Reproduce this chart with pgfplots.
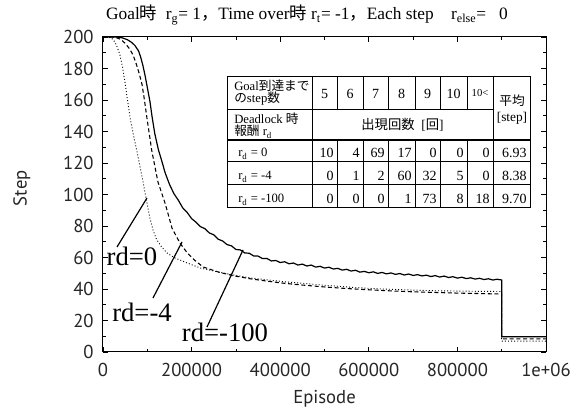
\documentclass[border=0pt]{standalone}
\usepackage{pgfplots}
\pgfplotsset{compat=1.18}
\usepackage{fontspec}
\setmainfont{PT Sans}
\newfontfamily\serif{Liberation Serif}
\newfontfamily\jp{Noto Sans CJK JP}
\begin{document}
\begin{tikzpicture}
\path[use as bounding box] (-77.25pt,-45.75pt) rectangle (360.75pt,264pt);
\begin{axis}[
  at={(0,0)}, anchor=south west,
  scale only axis, width=332.25pt, height=236.25pt,
  xmin=0, xmax=1000000, ymin=0, ymax=200,
  xtick={0,200000,400000,600000,800000,1000000},
  xticklabels={0,200000,400000,600000,800000,1e+06},
  scaled x ticks=false,
  ytick={0,20,...,200},
  minor x tick num=1, minor y tick num=1,
  tick pos=both, tick align=inside,
  major tick length=3.75pt, minor tick length=2.25pt,
  every tick/.style={black, line width=0.6pt},
  axis line style={black, line width=0.75pt},
  /pgf/number format/assume math mode=true,
  tick label style={font=\fontsize{14}{16}\selectfont, text=black!85},
  xticklabel style={yshift=-5pt},
  yticklabel style={xshift=-3.5pt},
  xlabel={Episode}, ylabel={Step},
  label style={font=\fontsize{14}{16}\selectfont, text=black!85},
  xlabel style={at={(axis description cs:0.5,-0.15)}, anchor=center},
  ylabel style={at={(axis description cs:-0.183,0.52)}, anchor=center},
]
% rd = 0 (dotted)
\addplot[black, line width=0.7pt, dash pattern=on 0.7pt off 1.6pt] coordinates {
(0,200) (8000,200) (15000,199.7) (23000,198.5) (30000,195) (38000,189) (44000,181)
(50000,170.5) (55000,160.5) (61000,149) (70000,136) (77000,127) (85000,115.5) (90000,108.5)
(99000,95) (106000,85) (113000,77.5) (120000,72) (130000,67.5) (144000,63) (160000,60)
(190000,56.5) (220000,53.3) (257000,51) (300000,48.6) (335000,47) (370000,45.8)
(410000,44.6) (450000,43.6) (500000,42.4) (550000,41.3) (600000,40.4) (650000,39.8)
(700000,39.3) (750000,38.9) (800000,38.7) (850000,38.5) (899999,38.4)
(900000,6.93) (1000000,6.93)
};
% rd = -4 (dashed)
\addplot[black, line width=0.8pt, dash pattern=on 3pt off 2pt] coordinates {
(0,200) (20000,200) (31000,199.5) (40000,198.5) (50000,196) (60000,192.5) (68000,188.5)
(75000,183) (82000,176.5) (88000,170) (93000,161) (99000,149) (110000,128) (124000,108)
(140000,94.6) (156000,78.5) (174000,69) (190000,63) (208000,58) (226000,54)
(260000,50.8) (293000,48.5) (330000,46.6) (370000,45) (410000,43.6) (450000,42.5)
(500000,41.3) (550000,40.3) (600000,39.5) (650000,38.8) (700000,38.2) (750000,37.8)
(800000,37.4) (850000,37.1) (899999,36.8) (900000,8.38) (1000000,8.38)
};
% rd = -100 (solid)
\addplot[black, line width=0.9pt] coordinates {
(0,200) (30000,200) (43000,199.5) (55000,198.3) (65000,196.5) (72000,194.6) (80000,191.3)
(85000,187.3) (90000,182) (95000,175.5) (100000,168) (106000,159) (111000,149) (117000,138.5)
(125000,128.5) (133000,121) (140000,114) (150000,106.5) (160000,100.6)
(170000,96.4) (180000,91.5) (190000,88.6) (200000,84.7) (210000,82.4) (220000,79.6)
(230000,78.3) (240000,75.6) (250000,74.4) (260000,71.6) (270000,70.5) (280000,68.2)
(290000,67.4) (300000,65.1) (310000,64.8) (320000,62.9) (330000,62.7) (340000,61.0)
(350000,60.9) (360000,59.3) (370000,59.4) (380000,57.8) (390000,58.1) (400000,56.8)
(410000,57.3) (420000,56.0) (430000,56.5) (440000,55.2) (450000,55.8) (460000,54.6)
(470000,55.2) (480000,53.9) (490000,54.4) (500000,53.3) (510000,53.8) (520000,52.7)
(530000,53.1) (540000,52.0) (550000,52.5) (560000,51.4) (570000,51.9) (580000,50.7)
(590000,51.2) (600000,50.3) (610000,50.9) (620000,49.9) (630000,50.5) (640000,49.6)
(650000,50.2) (660000,49.3) (670000,49.8) (680000,48.9) (690000,49.5) (700000,48.6)
(710000,49.1) (720000,48.3) (730000,48.8) (740000,47.9) (750000,48.5) (760000,47.6)
(770000,48.2) (780000,47.3) (790000,47.8) (800000,46.9) (810000,47.5) (820000,46.6)
(830000,47.1) (840000,46.3) (850000,46.8) (860000,46.0) (870000,46.5) (880000,45.7)
(890000,46.2) (899999,45.7) (900000,9.70) (1000000,9.70)
};
\end{axis}
% annotations and table, in pixel units of the reference
\begin{scope}[x=0.75pt, y=-0.75pt, shift={(-103,-352)}]
  % title
  \node[anchor=base, inner sep=0pt, font=\serif\fontsize{13}{15}\selectfont] at (307,20)
    {Goal{\jp 時}\ \ r\textsubscript{g}= 1{\jp ，}Time over{\jp 時} r\textsubscript{t}= -1{\jp ，}Each step\ \ \ \ r\textsubscript{else}=\ \ \ 0};
  % curve labels
  \draw[black, line width=0.9pt] (117,247) -- (147,198);
  \draw[black, line width=0.9pt] (153,298) -- (182,242);
  \draw[black, line width=0.9pt] (207,327) -- (243,250);
  \node[inner sep=0pt, font=\serif\fontsize{20}{22}\selectfont] at (132,256) {rd=0};
  \node[inner sep=0pt, font=\serif\fontsize{20}{22}\selectfont] at (142,312) {rd=-4};
  \node[inner sep=0pt, font=\serif\fontsize{20}{22}\selectfont] at (225,332) {rd=-100};
  % table
  \fill[white] (227,77) rectangle (530,208);
  \draw[black, line width=0.75pt] (227,77) rectangle (530,208);
  \draw[black, line width=0.75pt] (312,77) -- (312,208);
  \draw[black, line width=0.75pt] (493,77) -- (493,208);
  \foreach \xx in {337,363,388,415,440,467} {
    \draw[black, line width=0.75pt] (\xx,77) -- (\xx,110);
    \draw[black, line width=0.75pt] (\xx,140) -- (\xx,208);
  }
  \draw[black, line width=0.75pt] (227,110) -- (493,110);
  \draw[black, line width=1.5pt] (227,140) -- (530,140);
  \draw[black, line width=0.75pt] (227,162) -- (530,162);
  \draw[black, line width=0.75pt] (227,185) -- (530,185);
  % header texts
  \begin{scope}[every node/.style={inner sep=0pt, font=\serif\fontsize{9.5}{10}\selectfont}]
    \node[anchor=base west] at (234,91) {Goal{\jp 到達まで}};
    \node[anchor=base west] at (234,103) {{\jp の}step{\jp 数}};
    \node[anchor=base west] at (234,124) {Deadlock {\jp 時}};
    \node[anchor=base west] at (234,136) {{\jp 報酬} r\textsubscript{d}};
    \node[anchor=base west] at (238,157) {r\textsubscript{d} = 0};
    \node[anchor=base west] at (238,180) {r\textsubscript{d} = -4};
    \node[anchor=base west] at (238,203) {r\textsubscript{d} = -100};
    \node[anchor=base, font=\serif\fontsize{8}{9}\selectfont] at (480,97) {10<};
    \node[anchor=base, font=\jp\fontsize{9.5}{10}\selectfont] at (512,106) {平均};
    \node[anchor=base, font=\serif\fontsize{10}{11}\selectfont] at (512,122) {[step]};
    \node[anchor=base, font=\serif\fontsize{10}{11}\selectfont] at (402.5,130) {{\jp 出現回数}\ \ [{\jp 回}]};
  \end{scope}
  \begin{scope}[every node/.style={inner sep=0pt, font=\serif\fontsize{10.5}{11}\selectfont}]
    \node[anchor=base] at (324.5,99) {5};
    \node[anchor=base] at (350,99) {6};
    \node[anchor=base] at (375.5,99) {7};
    \node[anchor=base] at (401.5,99) {8};
    \node[anchor=base] at (427.5,99) {9};
    \node[anchor=base] at (453.5,99) {10};
    % row rd=0
    \node[anchor=base east] at (334,158) {10};
    \node[anchor=base east] at (360,158) {4};
    \node[anchor=base east] at (385,158) {69};
    \node[anchor=base east] at (412,158) {17};
    \node[anchor=base east] at (437,158) {0};
    \node[anchor=base east] at (464,158) {0};
    \node[anchor=base east] at (490,158) {0};
    \node[anchor=base east] at (527,158) {6.93};
    % row rd=-4
    \node[anchor=base east] at (334,181) {0};
    \node[anchor=base east] at (360,181) {1};
    \node[anchor=base east] at (385,181) {2};
    \node[anchor=base east] at (412,181) {60};
    \node[anchor=base east] at (437,181) {32};
    \node[anchor=base east] at (464,181) {5};
    \node[anchor=base east] at (490,181) {0};
    \node[anchor=base east] at (527,181) {8.38};
    % row rd=-100
    \node[anchor=base east] at (334,204) {0};
    \node[anchor=base east] at (360,204) {0};
    \node[anchor=base east] at (385,204) {0};
    \node[anchor=base east] at (412,204) {1};
    \node[anchor=base east] at (437,204) {73};
    \node[anchor=base east] at (464,204) {8};
    \node[anchor=base east] at (490,204) {18};
    \node[anchor=base east] at (527,204) {9.70};
  \end{scope}
\end{scope}
\end{tikzpicture}
\end{document}
